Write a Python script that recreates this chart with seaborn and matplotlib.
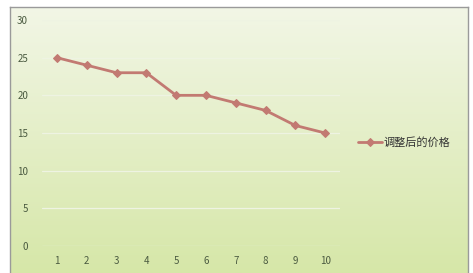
import numpy as np
import matplotlib
matplotlib.use("Agg")
import matplotlib.pyplot as plt
import seaborn as sns
import pandas as pd

categories = [1, 2, 3, 4, 5, 6, 7, 8, 9, 10]
prices = [25, 24, 23, 23, 20, 20, 19, 18, 16, 15]
series_name = "调整后的价格"
y_ticks = [0, 5, 10, 15, 20, 25, 30]

sns.set_theme(style="white")
plt.rcParams['font.family'] = ['Noto Sans CJK SC', 'DejaVu Sans']

W, H = 473, 273
fig = plt.figure(figsize=(W / 100, H / 100), dpi=100)
fig.patch.set_facecolor("white")

# background gradient panel
bg = fig.add_axes([10 / W, 0, 458 / W, 266 / H])
top = np.array([242, 246, 230]) / 255
bot = np.array([214, 231, 168]) / 255
t = np.linspace(0, 1, 256)[:, None]
grad = top[None, :] * (1 - t) + bot[None, :] * t
grad = np.repeat(grad[:, None, :], 2, axis=1)
bg.imshow(grad, aspect="auto", extent=[0, 1, 0, 1], origin="upper")
bg.set_xticks([]); bg.set_yticks([])
for s in bg.spines.values():
    s.set_color("#9a9a9a"); s.set_linewidth(1.0)
bg.spines["bottom"].set_visible(False)

ax = fig.add_axes([42 / W, 27 / H, 298 / W, 226 / H])
ax.set_facecolor("none")
df = pd.DataFrame({"x": categories, "y": prices})
sns.lineplot(data=df, x="x", y="y", ax=ax, color="#c27a72", linewidth=2.0,
             marker="D", markersize=4, markeredgecolor="#c27a72", label=series_name)
ax.set_xlim(0.5, 10.5)
ax.set_ylim(0, 30)
ax.set_yticks(y_ticks)
ax.set_xticks(categories)
ax.set_xticklabels([str(c) for c in categories])
ax.yaxis.grid(True, color="#eef3e2", linewidth=0.9)
ax.xaxis.grid(False)
for s in ax.spines.values():
    s.set_visible(False)
ax.tick_params(axis="both", length=0, labelsize=7, colors="#4a5a40")
ax.tick_params(axis="y", pad=10)
ax.tick_params(axis="x", pad=7)
ax.set_xlabel(""); ax.set_ylabel("")
leg = ax.legend(loc="center left", bbox_to_anchor=(1.045, 0.46), frameon=False,
                fontsize=8, handlelength=2.2, handletextpad=0.15, borderaxespad=0)
for txt in leg.get_texts():
    txt.set_color("#333333")

fig.savefig("out.png", dpi=100)
